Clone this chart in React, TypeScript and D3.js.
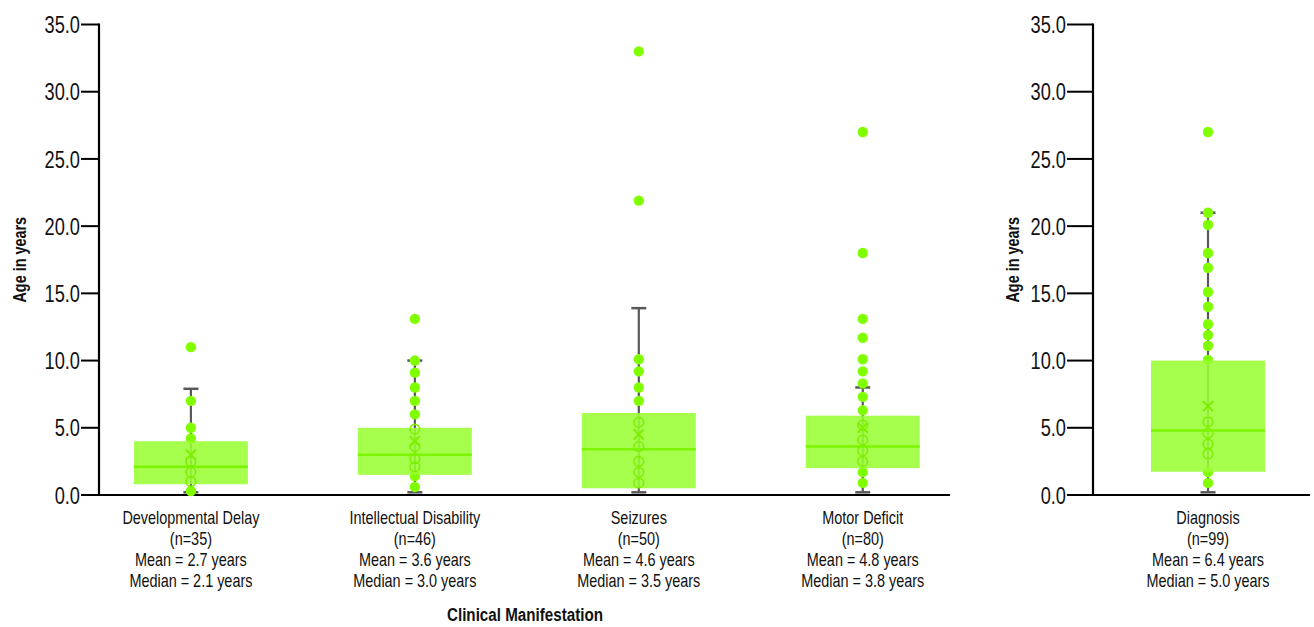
import React from 'react';
import * as d3 from 'd3';

const manifestations = ['Developmental Delay', 'Intellectual Disability', 'Seizures', 'Motor Deficit'];
const manifestationN = [35, 46, 50, 80];
const manifestationMean = ['2.7', '3.6', '4.6', '4.8'];
const manifestationMedian = ['2.1', '3.0', '3.5', '3.8'];
const boxQ1 = [0.8, 1.5, 0.5, 2.0];
const boxMedian = [2.1, 3.0, 3.4, 3.6];
const boxQ3 = [4.0, 5.0, 6.1, 5.9];
const whiskerLow = [0.2, 0.2, 0.2, 0.2];
const whiskerHigh = [7.9, 10.0, 13.9, 8.0];
const meanMark = [3.0, 4.0, 4.5, 5.0];
const manifestationPoints = [
  [11.0, 7.0, 5.0, 4.2, 2.5, 1.7, 1.0, 0.3],
  [13.1, 10.0, 9.1, 8.0, 7.0, 6.0, 4.9, 3.6, 2.7, 2.1, 1.4, 0.6],
  [33.0, 21.9, 10.1, 9.2, 8.0, 7.0, 5.4, 3.6, 2.5, 1.7, 0.9],
  [27.0, 18.0, 13.1, 11.7, 10.1, 9.2, 8.3, 7.3, 6.3, 5.2, 4.1, 3.3, 2.5, 1.7, 0.9],
];

const diagnosis = ['Diagnosis'];
const diagnosisN = [99];
const diagnosisMean = ['6.4'];
const diagnosisMedian = ['5.0'];
const diagQ1 = [1.73];
const diagMedian = [4.8];
const diagQ3 = [10.0];
const diagWhiskerLow = [0.2];
const diagWhiskerHigh = [21.0];
const diagMeanMark = [6.6];
const diagnosisPoints = [
  [27.0, 21.0, 20.1, 18.0, 16.9, 15.1, 14.0, 12.7, 11.9, 11.1, 10.05, 5.45, 4.6, 3.8, 3.05, 1.7, 0.9],
];

const yTicks = [0, 5, 10, 15, 20, 25, 30, 35];

const W = 1314;
const H = 627;
const font = "'Liberation Sans', Arial, sans-serif";
const boxFill = '#99ff33';
const pointFill = '#80ff00';
const ringStroke = '#7cf000';
const whiskerColor = '#595959';

const y = d3.scaleLinear().domain([0, 35]).range([495, 24.5]);

// narrow text: the original uses a condensed face, so squeeze a regular one
function NText(props: { x: number; y: number; size: number; sx?: number; anchor?: string; bold?: boolean; rotate?: number; dy?: string; children: React.ReactNode }) {
  const rot = props.rotate ? ` rotate(${props.rotate})` : '';
  return (
    <text
      transform={`translate(${props.x},${props.y})${rot} scale(${props.sx || 0.8},1)`}
      textAnchor={props.anchor || 'middle'}
      fontFamily={font}
      fontSize={props.size}
      fontWeight={props.bold ? 'bold' : 'normal'}
      dy={props.dy}
      fill="#111"
    >
      {props.children}
    </text>
  );
}

type PanelProps = {
  cats: string[];
  n: number[];
  means: string[];
  medians: string[];
  q1: number[];
  med: number[];
  q3: number[];
  lo: number[];
  hi: number[];
  meanX: number[];
  pts: number[][];
  x0: number;
  x1: number;
  padding: number;
  align: number;
  tickLen: number;
  titleX: number;
};

function Panel(p: PanelProps) {
  const x = d3.scalePoint<string>().domain(p.cats).range([p.x0, p.x1]).padding(p.padding).align(p.align);
  const boxW = 114;
  const capW = 15;
  return (
    <g>
      <line x1={p.x0} x2={p.x0} y1={y(35) - 1} y2={y(0) + 1} stroke="#000" strokeWidth={2.2} />
      <line x1={p.x0 - 1} x2={p.x1} y1={y(0)} y2={y(0)} stroke="#000" strokeWidth={2.2} />
      {yTicks.map((t) => (
        <g key={t}>
          <line x1={p.x0 - p.tickLen} x2={p.x0} y1={y(t)} y2={y(t)} stroke="#000" strokeWidth={2} />
          <NText x={p.x0 - p.tickLen - 1} y={y(t)} dy="0.36em" size={24} sx={0.76} anchor="end">
            {t.toFixed(1)}
          </NText>
        </g>
      ))}
      <NText x={p.titleX} y={(y(0) + y(35)) / 2} rotate={-90} size={18} bold>
        Age in years
      </NText>

      {p.cats.map((c, i) => {
        const cx = x(c) as number;
        return (
          <g key={c}>
            <line x1={cx} x2={cx} y1={y(p.lo[i])} y2={y(p.hi[i])} stroke={whiskerColor} strokeWidth={2.2} />
            <line x1={cx - capW / 2} x2={cx + capW / 2} y1={y(p.hi[i])} y2={y(p.hi[i])} stroke={whiskerColor} strokeWidth={2.5} />
            <line x1={cx - capW / 2} x2={cx + capW / 2} y1={y(p.lo[i])} y2={y(p.lo[i])} stroke={whiskerColor} strokeWidth={2.5} />
            {p.pts[i]
              .filter((v) => v < p.q1[i] || v > p.q3[i])
              .map((v, j) => (
                <circle key={'o' + j} cx={cx} cy={y(v)} r={5.2} fill={pointFill} />
              ))}
            <rect
              x={cx - boxW / 2}
              y={y(p.q3[i])}
              width={boxW}
              height={y(p.q1[i]) - y(p.q3[i])}
              fill={boxFill}
              fillOpacity={0.88}
            />
            <line x1={cx - boxW / 2} x2={cx + boxW / 2} y1={y(p.med[i])} y2={y(p.med[i])} stroke="#7cf500" strokeWidth={2.5} />
            {p.pts[i]
              .filter((v) => v >= p.q1[i] && v <= p.q3[i])
              .map((v, j) => (
                <circle key={'r' + j} cx={cx} cy={y(v)} r={4.8} fill="none" stroke={ringStroke} strokeWidth={1.6} />
              ))}
            <path
              d={`M${cx - 5},${y(p.meanX[i]) - 5}L${cx + 5},${y(p.meanX[i]) + 5}M${cx + 5},${y(p.meanX[i]) - 5}L${cx - 5},${y(p.meanX[i]) + 5}`}
              stroke={ringStroke}
              strokeWidth={2}
              fill="none"
            />
            <NText x={cx} y={524} size={18.5} sx={0.78}>{c}</NText>
            <NText x={cx} y={545} size={18.5} sx={0.78}>{`(n=${p.n[i]})`}</NText>
            <NText x={cx} y={566} size={18.5} sx={0.78}>{`Mean = ${p.means[i]} years`}</NText>
            <NText x={cx} y={587} size={18.5} sx={0.78}>{`Median = ${p.medians[i]} years`}</NText>
          </g>
        );
      })}
    </g>
  );
}

export default function App() {
  return (
    <svg width={W} height={H} style={{ position: 'absolute', left: 0, top: 0, background: '#fff' }}>
      <Panel
        cats={manifestations}
        n={manifestationN}
        means={manifestationMean}
        medians={manifestationMedian}
        q1={boxQ1}
        med={boxMedian}
        q3={boxQ3}
        lo={whiskerLow}
        hi={whiskerHigh}
        meanX={meanMark}
        pts={manifestationPoints}
        x0={99}
        x1={950}
        padding={0.4}
        align={0.513}
        tickLen={18}
        titleX={26}
      />
      <NText x={525} y={621} size={19} bold>
        Clinical Manifestation
      </NText>
      <Panel
        cats={diagnosis}
        n={diagnosisN}
        means={diagnosisMean}
        medians={diagnosisMedian}
        q1={diagQ1}
        med={diagMedian}
        q3={diagQ3}
        lo={diagWhiskerLow}
        hi={diagWhiskerHigh}
        meanX={diagMeanMark}
        pts={diagnosisPoints}
        x0={1093}
        x1={1310}
        padding={0.5}
        align={0.53}
        tickLen={26}
        titleX={1019}
      />
    </svg>
  );
}
